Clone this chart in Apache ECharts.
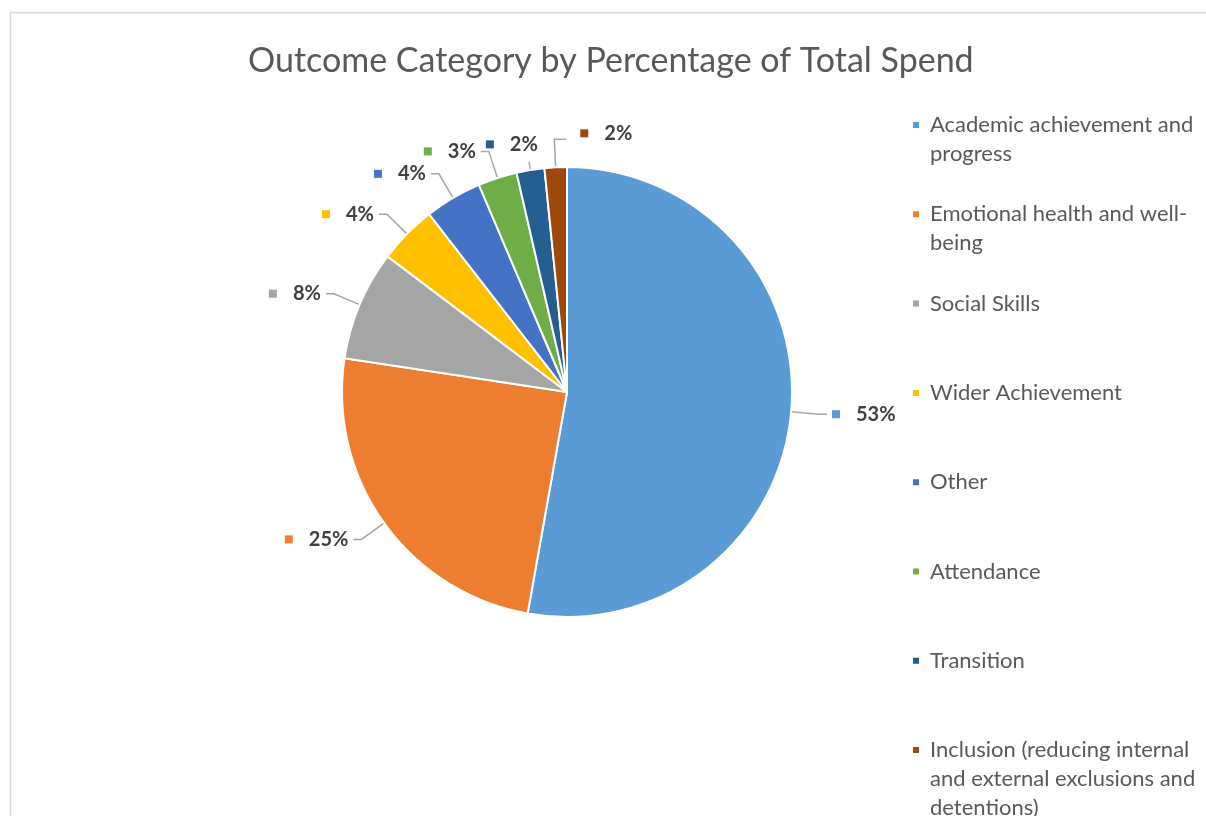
<!DOCTYPE html>
<html>
<head>
<meta charset="utf-8">
<style>
  html, body { margin: 0; padding: 0; background: #fff; }
  #chart { width: 1206px; height: 816px; }
</style>
<script src="https://cdn.jsdelivr.net/npm/echarts@6/dist/echarts.min.js"></script>
</head>
<body>
<div id="chart"></div>
<script>
// Outcome categories and their share of total spend (%)
const categories = [
  'Academic achievement and progress',
  'Emotional health and well-being',
  'Social Skills',
  'Wider Achievement',
  'Other',
  'Attendance',
  'Transition',
  'Inclusion (reducing internal and external exclusions and detentions)'
];
const spendShare = [52.8, 24.6, 7.9, 4.2, 4.1, 2.8, 2.0, 1.6];

// Legend text, wrapped the way it is shown beside the pie
const legendText = [
  'Academic achievement and\nprogress',
  'Emotional health and well-\nbeing',
  'Social Skills',
  'Wider Achievement',
  'Other',
  'Attendance',
  'Transition',
  'Inclusion (reducing internal\nand external exclusions and\ndetentions)'
];

const palette = ['#5B9BD5', '#ED7D31', '#A5A5A5', '#FFC000', '#4472C4', '#70AD47', '#255E91', '#9E480E'];

const FONT = 'Lato, "Open Sans", sans-serif';
const LEGEND_FONT_SIZE = 22;
const LEGEND_LINE = 29;
const LEGEND_FIRST = 125;
const LEGEND_STEP = 89.3;

const chart = echarts.init(document.getElementById('chart'), null, { renderer: 'canvas' });

// colour key squares used inside the data labels
const rich = { v: { fontFamily: FONT, fontSize: 20, fontWeight: 'bold', color: '#404040', padding: [0, 0, 0, 16] } };
palette.forEach((c, i) => {
  rich['k' + i] = { width: 8, height: 8, backgroundColor: c };
});

// one legend block per category so that every entry sits on an even step;
// blank lines in front keep the colour key level with the first text line
const legends = categories.map((name, i) => {
  const lines = legendText[i].split('\n').length;
  const iconMid = LEGEND_FIRST + i * LEGEND_STEP;
  const padded = ' \n'.repeat(lines - 1) + legendText[i];
  return {
    orient: 'vertical',
    left: 911,
    top: iconMid - (2 * lines - 1) * LEGEND_LINE / 2,
    padding: 0,
    icon: 'rect',
    itemWidth: 8,
    itemHeight: 8,
    itemGap: 0,
    selectedMode: false,
    data: [name],
    formatter: () => padded,
    textStyle: {
      fontFamily: FONT,
      fontSize: LEGEND_FONT_SIZE,
      color: '#595959',
      lineHeight: LEGEND_LINE,
      padding: [0, 0, 0, 5]
    }
  };
});

const LAST = categories.length - 1;

chart.setOption({
  backgroundColor: '#ffffff',
  color: palette,
  animation: false,
  title: {
    text: 'Outcome Category by Percentage of Total Spend',
    left: 243,
    top: 39,
    textStyle: { fontFamily: FONT, fontSize: 34, fontWeight: 'normal', color: '#595959' }
  },
  legend: legends,
  graphic: [{
    type: 'rect',
    silent: true,
    shape: { x: 10.5, y: 12.5, width: 1400, height: 1000 },
    style: { fill: 'none', stroke: '#d9d9d9', lineWidth: 1.5 }
  }],
  series: [{
    type: 'pie',
    center: [567, 392],
    radius: 225,
    startAngle: 90,
    clockwise: true,
    avoidLabelOverlap: false,
    itemStyle: { borderColor: '#ffffff', borderWidth: 2 },
    label: {
      show: true,
      position: 'outside',
      formatter: p => '{k' + p.dataIndex + '|}{v|' + Math.round(p.value) + '%}',
      rich: rich
    },
    labelLine: {
      show: true,
      length: 28,
      length2: 8,
      lineStyle: { color: '#a6a6a6', width: 1.5 }
    },
    // the two thinnest slices at the top get their labels lifted clear of the others:
    // the last one turns to the right of its line, the one before sits above its slice
    labelLayout: function (params) {
      const pts = params.labelLinePoints;
      if (!pts) return {};
      const edge = pts[0];
      const elbow = pts[1];
      if (params.dataIndex === LAST) {
        const end = [elbow[0] + 12, elbow[1]];
        return {
          x: end[0] + 14,
          y: end[1] - 6,
          align: 'left',
          verticalAlign: 'middle',
          labelLinePoints: [edge, elbow, end]
        };
      }
      if (params.dataIndex === LAST - 1) {
        return {
          x: elbow[0] - 14,
          y: elbow[1] + 2,
          align: 'center',
          verticalAlign: 'middle',
          labelLinePoints: [edge, [edge[0] + (elbow[0] - edge[0]) * 0.3, edge[1] + (elbow[1] - edge[1]) * 0.3]]
        };
      }
      return {};
    },
    data: categories.map((name, i) => ({ name: name, value: spendShare[i] }))
  }]
});
</script>
</body>
</html>
